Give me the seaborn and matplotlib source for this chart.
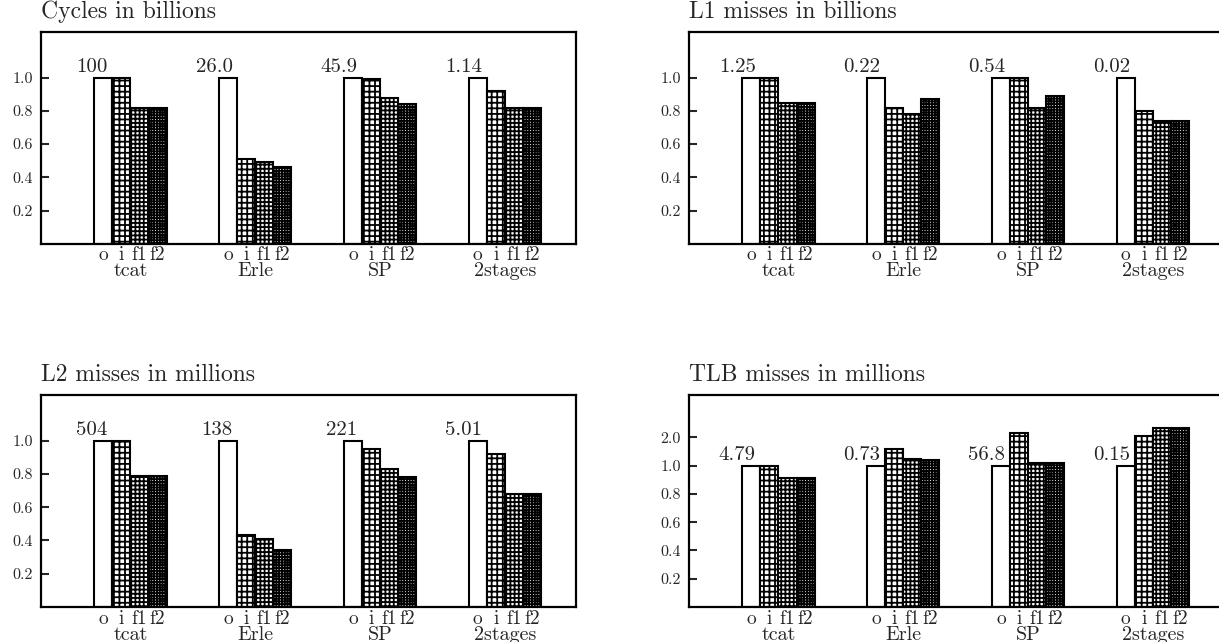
import numpy as np
import pandas as pd
import seaborn as sns
import matplotlib.pyplot as plt

benches = ["tcat", "Erle", "SP", "2stages"]
variants = ["o", "i", "f1", "f2"]
hatches = ["", "+++", "++++", "++++++"]

# normalised values, one list per benchmark: o, i, f1, f2
cycles = [[1.0, 1.0, 0.82, 0.82], [1.0, 0.51, 0.49, 0.46],
          [1.0, 0.99, 0.88, 0.84], [1.0, 0.92, 0.82, 0.82]]
l1 = [[1.0, 1.0, 0.85, 0.85], [1.0, 0.82, 0.78, 0.87],
      [1.0, 1.0, 0.82, 0.89], [1.0, 0.80, 0.74, 0.74]]
l2 = [[1.0, 1.0, 0.79, 0.79], [1.0, 0.43, 0.41, 0.34],
      [1.0, 0.95, 0.83, 0.78], [1.0, 0.92, 0.68, 0.68]]
tlb = [[1.0, 1.0, 0.91, 0.91], [1.0, 1.6, 1.25, 1.2],
       [1.0, 2.14, 1.11, 1.08], [1.0, 2.06, 2.32, 2.32]]

# absolute value of the "o" run, printed above it
cycles_abs = ["100", "26.0", "45.9", "1.14"]
l1_abs = ["1.25", "0.22", "0.54", "0.02"]
l2_abs = ["504", "138", "221", "5.01"]
tlb_abs = ["4.79", "0.73", "56.8", "0.15"]

titles = ["Cycles in billions", "L1 misses in billions",
          "L2 misses in millions", "TLB misses in millions"]

sns.set_theme(style="white")
plt.rcParams["font.family"] = ["cmr10", "DejaVu Serif"]
plt.rcParams["axes.formatter.use_mathtext"] = True
plt.rcParams["hatch.linewidth"] = 1.3


def fwd(v):
    v = np.asarray(v, dtype=float)
    return np.where(v <= 1, v, 1 + (v - 1) * 0.2)


def inv(v):
    v = np.asarray(v, dtype=float)
    return np.where(v <= 1, v, 1 + (v - 1) / 0.2)


def panel(ax, vals, absvals, title, squash=False):
    df = pd.DataFrame([(b, v, vals[i][j]) for i, b in enumerate(benches)
                       for j, v in enumerate(variants)],
                      columns=["bench", "variant", "value"])
    sns.barplot(data=df, x="bench", y="value", hue="variant", order=benches,
                hue_order=variants, palette=["white"] * 4, saturation=1,
                width=0.58, gap=0, edgecolor="black", linewidth=1.5,
                legend=False, ax=ax)
    centers, names = [], []
    for cont, h in zip(ax.containers, hatches):
        for bar in cont:
            bar.set_hatch(h)
    for k in range(len(benches)):
        for j, cont in enumerate(ax.containers):
            bar = cont[k]
            centers.append(bar.get_x() + bar.get_width() / 2)
            names.append(variants[j])
    for bar, txt in zip(ax.containers[0], absvals):
        ax.annotate(txt, xy=(bar.get_x() + bar.get_width() * 0.75, bar.get_height()),
                    xytext=(0, 1), textcoords="offset points",
                    ha="right", va="bottom", fontsize=15)
    for k, b in enumerate(benches):
        ax.annotate(b, xy=(k, 0), xycoords=("data", "axes fraction"),
                    xytext=(0, -23.5), textcoords="offset points",
                    ha="center", va="baseline", fontsize=14.5)
    if squash:
        ax.set_yscale("function", functions=(fwd, inv))
        ax.set_ylim(0, 3.5)
        yt = [0.2, 0.4, 0.6, 0.8, 1.0, 2.0]
    else:
        ax.set_ylim(0, 1.274)
        yt = [0.2, 0.4, 0.6, 0.8, 1.0]
    ax.set_yticks(yt)
    ax.set_yticklabels([f"{t:.1f}" for t in yt])
    ax.set_xticks(centers)
    ax.set_xticklabels(names, fontsize=14)
    ax.set_xlim(-0.717, 3.571)
    ax.set_xlabel("")
    ax.set_ylabel("")
    ax.tick_params(axis="y", direction="in", length=6, width=1.5,
                   labelsize=11.5, pad=6, left=True)
    ax.tick_params(axis="x", length=0, pad=2)
    for sp in ax.spines.values():
        sp.set_linewidth(1.6)
        sp.set_color("black")
    ax.annotate(title, xy=(0, 1), xycoords="axes fraction", xytext=(0, 10),
                textcoords="offset points", ha="left", va="baseline",
                fontsize=17)


fig = plt.figure(figsize=(12.19, 6.42), dpi=100)
ax1 = fig.add_axes([0.0336, 0.6204, 0.4389, 0.3293])
ax2 = fig.add_axes([0.5652, 0.6204, 0.4389, 0.3293])
ax3 = fig.add_axes([0.0336, 0.0545, 0.4389, 0.3302])
ax4 = fig.add_axes([0.5652, 0.0545, 0.4389, 0.3302])

panel(ax1, cycles, cycles_abs, titles[0])
panel(ax2, l1, l1_abs, titles[1])
panel(ax3, l2, l2_abs, titles[2])
panel(ax4, tlb, tlb_abs, titles[3], squash=True)

fig.savefig("out.png", dpi=100)
